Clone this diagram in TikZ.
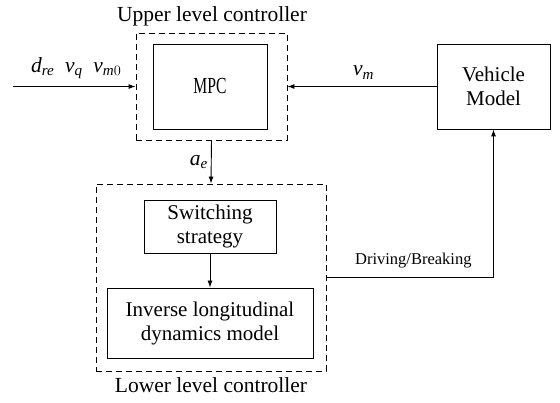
\documentclass[tikz,border=0pt]{standalone}
\usepackage{amsmath}
\usepackage{fontspec}
\setmainfont{Liberation Serif}
\usetikzlibrary{arrows.meta,positioning}
\newcommand{\iv}[1]{\textit{#1}}

\begin{document}
\begin{tikzpicture}[x=1pt, y=-1pt,
    solidbox/.style={draw, line width=0.9pt, inner sep=0pt, align=center, font=\fontsize{21}{24}\selectfont},
    dashbox/.style={draw, line width=0.9pt, dash pattern=on 6pt off 4pt, inner sep=0pt},
    sarrow/.style={-{Latex[length=7pt,width=5pt]}, line width=0.9pt},
    bigtext/.style={font=\fontsize{21.5}{24}\selectfont, inner sep=0pt},
    smalltext/.style={font=\fontsize{16.5}{19}\selectfont, inner sep=0pt}
  ]
    \useasboundingbox (0,0) rectangle (560,403);

    % upper level
    \node[dashbox, minimum width=151pt, minimum height=107pt] (uctrl) at (211.5,86.5) {};
    \node[solidbox, minimum width=114pt, minimum height=85pt] (mpc) at (210,86.5)
      {\scalebox{0.68}[1]{\fontsize{23}{26}\selectfont MPC}};
    \node[bigtext] (utitle) at (212,16) {Upper level controller};

    % vehicle
    \node[solidbox, minimum width=113pt, minimum height=85pt] (vehicle) at (493.5,86.5) {Vehicle\\Model};

    % lower level
    \node[dashbox, minimum width=230pt, minimum height=187pt] (lctrl) at (211,277.5) {};
    \node[solidbox, minimum width=132pt, minimum height=53pt] (switch) at (210,226.5) {Switching\\strategy};
    \node[solidbox, minimum width=206pt, minimum height=70pt] (inverse) at (210,323) {Inverse longitudinal\\dynamics model};
    \node[bigtext] (ltitle) at (211,385) {Lower level controller};

    \coordinate (input) at (13,86.5);

    % connectors
    \draw[sarrow] (input) -- node[bigtext, above=7pt, xshift=2pt] (inlab)
      {$\iv{d}_{\iv{re}}\enspace \iv{v}_{\iv{q}}\enspace \iv{v}_{\iv{m}0}$} (uctrl.west);
    \draw[sarrow] (vehicle.west) -- node[bigtext, above=7pt, pos=0.49] (vmlab) {$\iv{v}_{\iv{m}}$} (uctrl.east);
    \draw[sarrow] (uctrl.south) -- node[bigtext, left=3pt] (aelab) {$\iv{a}_{\iv{e}}$} (lctrl.north);
    \draw[sarrow] (switch.south) -- (inverse.north);
    \draw[sarrow] (lctrl.east) -| node[smalltext, pos=0.26, above=9pt] (drvlab) {Driving/Breaking} (vehicle.south);
  \end{tikzpicture}
\end{document}
